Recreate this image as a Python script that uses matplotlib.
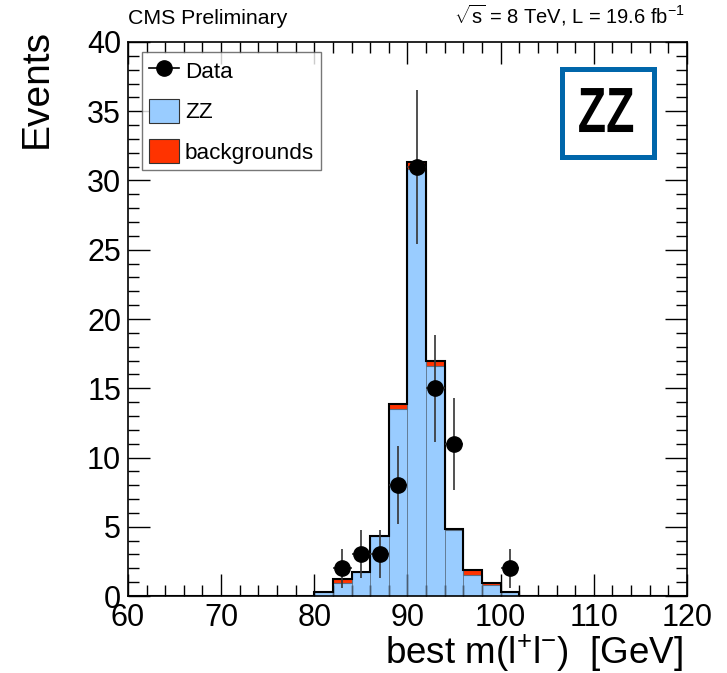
import numpy as np
import matplotlib
matplotlib.use("Agg")
import matplotlib.pyplot as plt
from matplotlib.patches import Rectangle, Patch, PathPatch
from matplotlib.lines import Line2D
from matplotlib.ticker import MultipleLocator
from matplotlib.textpath import TextPath
from matplotlib.font_manager import FontProperties
from matplotlib.transforms import Affine2D

plt.rcParams['font.family'] = ['Liberation Sans', 'DejaVu Sans']
plt.rcParams['mathtext.fontset'] = 'custom'
plt.rcParams['mathtext.rm'] = 'Liberation Sans'
plt.rcParams['mathtext.it'] = 'Liberation Sans'
plt.rcParams['mathtext.bf'] = 'Liberation Sans:bold'

# bins (GeV)
bin_edges = np.arange(60, 122, 2)
bin_low = [80, 82, 84, 86, 88, 90, 92, 94, 96, 98, 100]
zz_vals = [0.3, 0.95, 1.7, 4.3, 13.5, 30.8, 16.6, 4.75, 1.55, 0.8, 0.3]
bg_vals = [0.02, 0.25, 0.05, 0.05, 0.35, 0.55, 0.4, 0.1, 0.3, 0.12, 0.02]
data_x = [83, 85, 87, 89, 91, 93, 95, 101]
data_y = [2, 3, 3, 8, 31, 15, 11, 2]

nb = len(bin_edges) - 1
zz = np.zeros(nb)
bg = np.zeros(nb)
for lo, z, b in zip(bin_low, zz_vals, bg_vals):
    i = int(np.searchsorted(bin_edges, lo))
    zz[i] = z
    bg[i] = b
tot = zz + bg

fig = plt.figure(figsize=(7.27, 6.73), dpi=100)
ax = fig.add_axes([0.176, 0.1144, 0.769, 0.8232])

blue = '#99ccff'
red = '#ff3300'
ax.stairs(zz, bin_edges, fill=True, color=blue, zorder=1)
ax.stairs(tot, bin_edges, baseline=zz, fill=True, color=red, zorder=1)
ax.stairs(zz, bin_edges, color='#5a6f85', lw=0.8, zorder=2)
for lo in bin_low:
    i = int(np.searchsorted(bin_edges, lo))
    ax.plot([bin_edges[i], bin_edges[i]], [0, zz[i]], color='#5a6f85', lw=0.6, zorder=2)
ax.stairs(tot, bin_edges, color='black', lw=1.5, zorder=3)

dy = np.sqrt(np.array(data_y, dtype=float))
ax.errorbar(data_x, data_y, yerr=dy, xerr=1, fmt='o', color='black', ecolor='#333333',
            elinewidth=1.2, markersize=11, capsize=0, zorder=5)

ax.set_xlim(60, 120)
ax.set_ylim(0, 40)
ax.xaxis.set_major_locator(MultipleLocator(10))
ax.xaxis.set_minor_locator(MultipleLocator(2))
ax.yaxis.set_major_locator(MultipleLocator(5))
ax.yaxis.set_minor_locator(MultipleLocator(1))
ax.tick_params(which='both', direction='in', top=True, right=True, labelsize=22, width=1)
ax.tick_params(which='major', length=16)
ax.tick_params(which='minor', length=8)
ax.tick_params(axis='x', pad=5)
ax.tick_params(axis='y', pad=5)
for s in ax.spines.values():
    s.set_linewidth(1.2)

ax.set_xlabel(r'best m(l$^{+}$l$^{-}$)  [GeV]', fontsize=26.5, loc='right', labelpad=0)
ax.xaxis.label.set_x(0.993)
fig.text(19 / 727, 1 - 29 / 673, 'Events', fontsize=28, rotation=90, ha='left', va='top')

fig.text(0.176, 0.958, 'CMS Preliminary', fontsize=15.3, ha='left', va='bottom')
fig.text(685 / 727, 0.958, r'$\sqrt{\mathrm{s}}$ = 8 TeV, L = 19.6 fb$^{-1}$', fontsize=14.5,
         ha='right', va='bottom')

handles = [Line2D([0], [0], color='black', marker='o', markersize=11, lw=1.2),
           Patch(facecolor=blue, edgecolor='#333333', lw=0.8),
           Patch(facecolor=red, edgecolor='#333333', lw=0.8)]
leg = ax.legend(handles, ['Data', 'ZZ', 'backgrounds'], loc='upper left',
                bbox_to_anchor=(0.025, 0.982), fontsize=16.2, frameon=True, fancybox=False,
                edgecolor='#555555', handlelength=1.35, handleheight=1.25, handletextpad=0.26,
                labelspacing=0.7, borderpad=0.3, borderaxespad=0)
leg.get_frame().set_linewidth(1)

# ZZ logo box
ax.add_patch(Rectangle((0.777, 0.7933), 0.1646, 0.1588, transform=ax.transAxes, fill=False,
                       edgecolor='#0066aa', lw=3.6, zorder=6))
tp = TextPath((0, 0), 'ZZ', size=1, prop=FontProperties(family='Liberation Sans', weight='bold'))
ext = tp.get_extents()
w_ax, h_ax = 0.0966, 0.0794
x0_ax, y0_ax = 0.807, 0.8375
tr = Affine2D().translate(-ext.x0, -ext.y0).scale(w_ax / ext.width, h_ax / ext.height) \
    .translate(x0_ax, y0_ax) + ax.transAxes
ax.add_patch(PathPatch(tp, transform=tr, facecolor='black', edgecolor='none', zorder=7))

fig.savefig('out.png', dpi=100)
